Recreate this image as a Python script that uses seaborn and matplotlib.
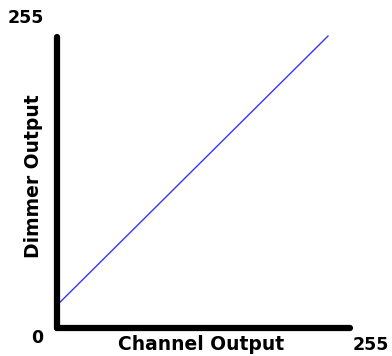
import matplotlib
matplotlib.use("Agg")
import matplotlib.pyplot as plt
import seaborn as sns

# dimmer curve: channel output vs dimmer output (offset start)
channel = [0, 236]
dimmer = [20, 256]

sns.set_style("white")
plt.rcParams["font.family"] = ["DejaVu Sans"]
plt.rcParams["text.color"] = "black"

W, H = 392, 356
fig = plt.figure(figsize=(W / 100, H / 100), dpi=100)
ax = fig.add_axes([57 / W, 28 / H, 293 / W, 291 / H])

sns.lineplot(x=channel, y=dimmer, ax=ax, color="#3535ff", linewidth=1.0)
ax.lines[0].set_clip_on(False)

ax.set_xlim(0, 255)
ax.set_ylim(0, 255)
ax.set_xticks([])
ax.set_yticks([])
sns.despine(ax=ax)
for side in ["left", "bottom"]:
    ax.spines[side].set_linewidth(4.5)
    ax.spines[side].set_color("black")
    ax.spines[side].set_capstyle("round")

# axis titles and end values
fig.text(201 / W, 1 - 350 / H, "Channel Output", fontsize=13.5, fontweight="bold",
         ha="center", va="baseline")
fig.text(34 / W, 1 - 176 / H, "Dimmer Output", fontsize=13.5, fontweight="bold",
         ha="center", va="center", rotation=90)

fig.text(26 / W, 1 - 23 / H, "255", fontsize=12.5, fontweight="bold", ha="center", va="baseline")
fig.text(37 / W, 1 - 343 / H, "0", fontsize=12.5, fontweight="bold", ha="center", va="baseline")
fig.text(371 / W, 1 - 350 / H, "255", fontsize=12.5, fontweight="bold", ha="center", va="baseline")

plt.savefig("out.png", dpi=100)
